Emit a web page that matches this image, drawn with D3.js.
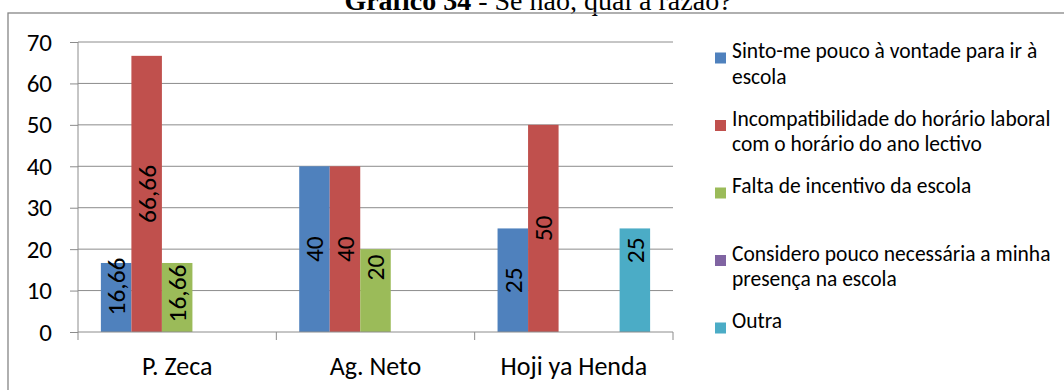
<!DOCTYPE html>
<html>
<head>
<meta charset="utf-8">
<script src="https://cdn.jsdelivr.net/npm/d3@7/dist/d3.min.js"></script>
<style>
  html, body { margin: 0; padding: 0; background: #fff; }
  svg { display: block; }
</style>
</head>
<body>
<svg id="chart" width="1064" height="390"></svg>
<script>
// Schools (x categories)
const categories = ["P. Zeca", "Ag. Neto", "Hoji ya Henda"];

// Reasons (series) and their percentages per school; null = no answer
const seriesNames = [
  "Sinto-me pouco à vontade para ir à escola",
  "Incompatibilidade do horário laboral com o horário do ano lectivo",
  "Falta de incentivo da escola",
  "Considero pouco necessária a minha presença na escola",
  "Outra"
];
const sintoMe        = [16.66, 40, 25];
const incompatibil   = [66.66, 40, 50];
const faltaIncentivo = [16.66, 20, null];
const considero      = [null, null, null];
const outra          = [null, null, 25];

const yTicks = [0, 10, 20, 30, 40, 50, 60, 70];

const seriesValues = [sintoMe, incompatibil, faltaIncentivo, considero, outra];
const colors = ["#4F81BD", "#C0504D", "#9BBB59", "#8064A2", "#4BACC6"];

const svg = d3.select("#chart");
const font = "Calibri, Carlito, Lato, 'Open Sans', sans-serif";

// Title (its upper part runs past the top edge)
const title = svg.append("text")
  .attr("x", 538).attr("y", 10)
  .attr("text-anchor", "middle")
  .style("font-family", "'Liberation Serif', 'Times New Roman', serif")
  .style("font-size", "28px");
title.append("tspan").style("font-weight", "bold").text("Gráfico 34");
title.append("tspan").text(" - Se não, qual a razão?");

// Outer chart frame
svg.append("rect")
  .attr("x", 8).attr("y", 13)
  .attr("width", 1080).attr("height", 400)
  .attr("fill", "none").attr("stroke", "#868686").attr("stroke-width", 1.3);

// Plot area
const plot = { left: 78, right: 673, top: 42, bottom: 332 };

const y = d3.scaleLinear().domain([0, 70]).range([plot.bottom, plot.top]);
const x0 = d3.scaleBand().domain(categories).range([plot.left, plot.right]).paddingInner(0).paddingOuter(0);
const bandW = x0.bandwidth();
const slot = bandW / (seriesNames.length + 1.5);
const x1 = d3.scaleBand().domain(d3.range(seriesNames.length))
  .range([slot * 0.75, bandW - slot * 0.75]).padding(0);

// Horizontal gridlines
svg.append("g").selectAll("line").data(yTicks.filter(d => d > 0)).join("line")
  .attr("x1", plot.left).attr("x2", plot.right)
  .attr("y1", d => y(d)).attr("y2", d => y(d))
  .attr("stroke", "#8c8c8c").attr("stroke-width", 1);

// Bars
const bars = [];
seriesValues.forEach((vals, s) => {
  vals.forEach((v, c) => {
    if (v !== null) bars.push({ s, c, v });
  });
});

svg.append("g").selectAll("rect").data(bars).join("rect")
  .attr("x", d => x0(categories[d.c]) + x1(d.s))
  .attr("width", x1.bandwidth())
  .attr("y", d => y(d.v))
  .attr("height", d => y(0) - y(d.v))
  .attr("fill", d => colors[d.s]);

// Y axis
const yAxis = d3.axisLeft(y).tickValues(yTicks).tickSize(8).tickPadding(18).tickFormat(d3.format("d"));
const gy = svg.append("g").attr("transform", `translate(${plot.left},0)`).call(yAxis);
gy.select(".domain").attr("stroke", "#8c8c8c").attr("d", `M0,${plot.top}V${plot.bottom}`);
gy.selectAll(".tick line").attr("stroke", "#8c8c8c");
gy.selectAll(".tick text")
  .style("font-family", font).style("font-size", "25px").attr("fill", "#000");

// X axis: tick marks at category boundaries
svg.append("line")
  .attr("x1", plot.left).attr("x2", plot.right)
  .attr("y1", plot.bottom).attr("y2", plot.bottom)
  .attr("stroke", "#8c8c8c");
const bounds = categories.map(c => x0(c)).concat([plot.right]);
svg.append("g").selectAll("line").data(bounds).join("line")
  .attr("x1", d => d).attr("x2", d => d)
  .attr("y1", plot.bottom).attr("y2", plot.bottom + 8)
  .attr("stroke", "#8c8c8c");
svg.append("g").selectAll("text").data(categories).join("text")
  .attr("x", d => x0(d) + bandW / 2)
  .attr("y", 375)
  .attr("text-anchor", "middle")
  .style("font-family", font).style("font-size", "26px")
  .text(d => d);

// Data labels, rotated, near the middle of each bar
const labelShift = { "0-0": -11, "2-0": -4, "2-1": -23, "4-2": -30 };
const fmt = v => String(v).replace(".", ",");
svg.append("g").selectAll("text").data(bars).join("text")
  .attr("transform", d => {
    const cx = x0(categories[d.c]) + x1(d.s) + x1.bandwidth() / 2;
    const cy = (y(d.v) + y(0)) / 2 + (labelShift[d.s + "-" + d.c] || 0);
    return `translate(${cx},${cy}) rotate(-90)`;
  })
  .attr("text-anchor", "middle")
  .attr("dy", "0.35em")
  .style("font-family", font).style("font-size", "25.5px")
  .text(d => fmt(d.v));

// Legend with wrapped labels
const legend = svg.append("g");
const maxW = 325;
seriesNames.forEach((name, i) => {
  const yy = 58 + i * 67.5;
  legend.append("rect")
    .attr("x", 715).attr("y", yy - 5.5)
    .attr("width", 11).attr("height", 11)
    .attr("fill", colors[i]);
  const t = legend.append("text")
    .attr("x", 732).attr("y", yy)
    .attr("dy", "0.35em")
    .style("font-family", font).style("font-size", "21.5px");
  const words = name.split(" ");
  let line = [];
  let ts = t.append("tspan").attr("x", 732).attr("dy", 0);
  words.forEach(w => {
    line.push(w);
    ts.text(line.join(" "));
    if (ts.node().getComputedTextLength() > maxW && line.length > 1) {
      line.pop();
      ts.text(line.join(" "));
      line = [w];
      ts = t.append("tspan").attr("x", 732).attr("dy", 25.5).text(w);
    }
  });
});
</script>
</body>
</html>
